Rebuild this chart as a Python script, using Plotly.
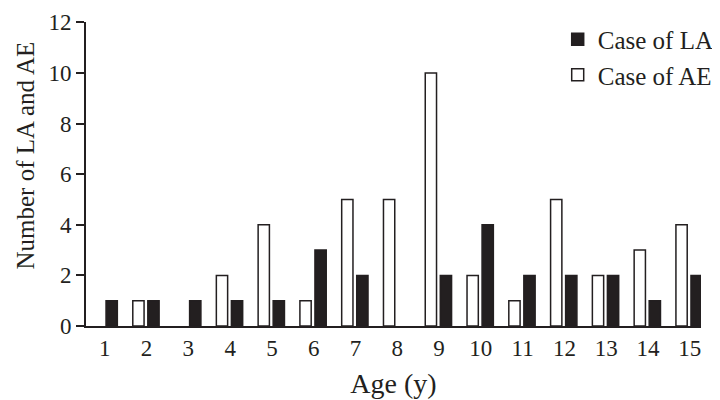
import plotly.graph_objects as go

ages = list(range(1, 16))
case_la = [1, 1, 1, 1, 1, 3, 2, 0, 2, 4, 2, 2, 2, 1, 2]
case_ae = [0, 1, 0, 2, 4, 1, 5, 5, 10, 2, 1, 5, 2, 3, 4]

INK = "#231f20"
SERIF = "Liberation Serif, Times New Roman, serif"
FONT = dict(family=SERIF, size=23, color=INK)

# zero counts are simply not drawn (no flat outline on the baseline)
def shown(vals):
    return [v if v else None for v in vals]

fig = go.Figure()
fig.add_trace(go.Bar(
    x=ages, y=shown(case_la), name="Case of LA",
    marker=dict(color=INK, line=dict(color=INK, width=1.5)),
    width=0.27, offset=0.03,
))
fig.add_trace(go.Bar(
    x=ages, y=shown(case_ae), name="Case of AE",
    marker=dict(color="white", line=dict(color=INK, width=1.5)),
    width=0.27, offset=-0.33,
))

# page body adds an 8px offset, so margins are shifted to compensate
fig.update_layout(
    width=720, height=400,
    margin=dict(l=78, r=26, t=9, b=82),
    paper_bgcolor="white", plot_bgcolor="white",
    font=FONT,
    barmode="overlay",
    showlegend=True,
    legend=dict(x=0.767, y=1.018, xanchor="left", yanchor="top",
                bgcolor="rgba(0,0,0,0)", font=dict(family=SERIF, size=25, color=INK),
                traceorder="normal"),
    annotations=[dict(
        text="Number of LA and AE", textangle=-90,
        xref="paper", yref="paper", x=-0.098, y=0.56,
        xanchor="center", yanchor="middle", showarrow=False,
        font=dict(family=SERIF, size=25, color=INK),
    )],
)
fig.update_xaxes(
    range=[0.55, 15.27], tickmode="array", tickvals=ages,
    ticks="", showgrid=False, zeroline=False, automargin=False,
    showline=True, linecolor=INK, linewidth=2,
    title=dict(text="Age (y)", standoff=14), tickfont=FONT,
)
fig.update_yaxes(
    range=[0, 12.01], tickmode="array", tickvals=[0, 2, 4, 6, 8, 10, 12],
    ticks="outside", ticklen=8, tickwidth=2, tickcolor=INK,
    showgrid=False, zeroline=False, automargin=False,
    showline=True, linecolor=INK, linewidth=2, ticklabeloverflow="allow",
    tickfont=FONT,
)

fig.write_html("out.html")
